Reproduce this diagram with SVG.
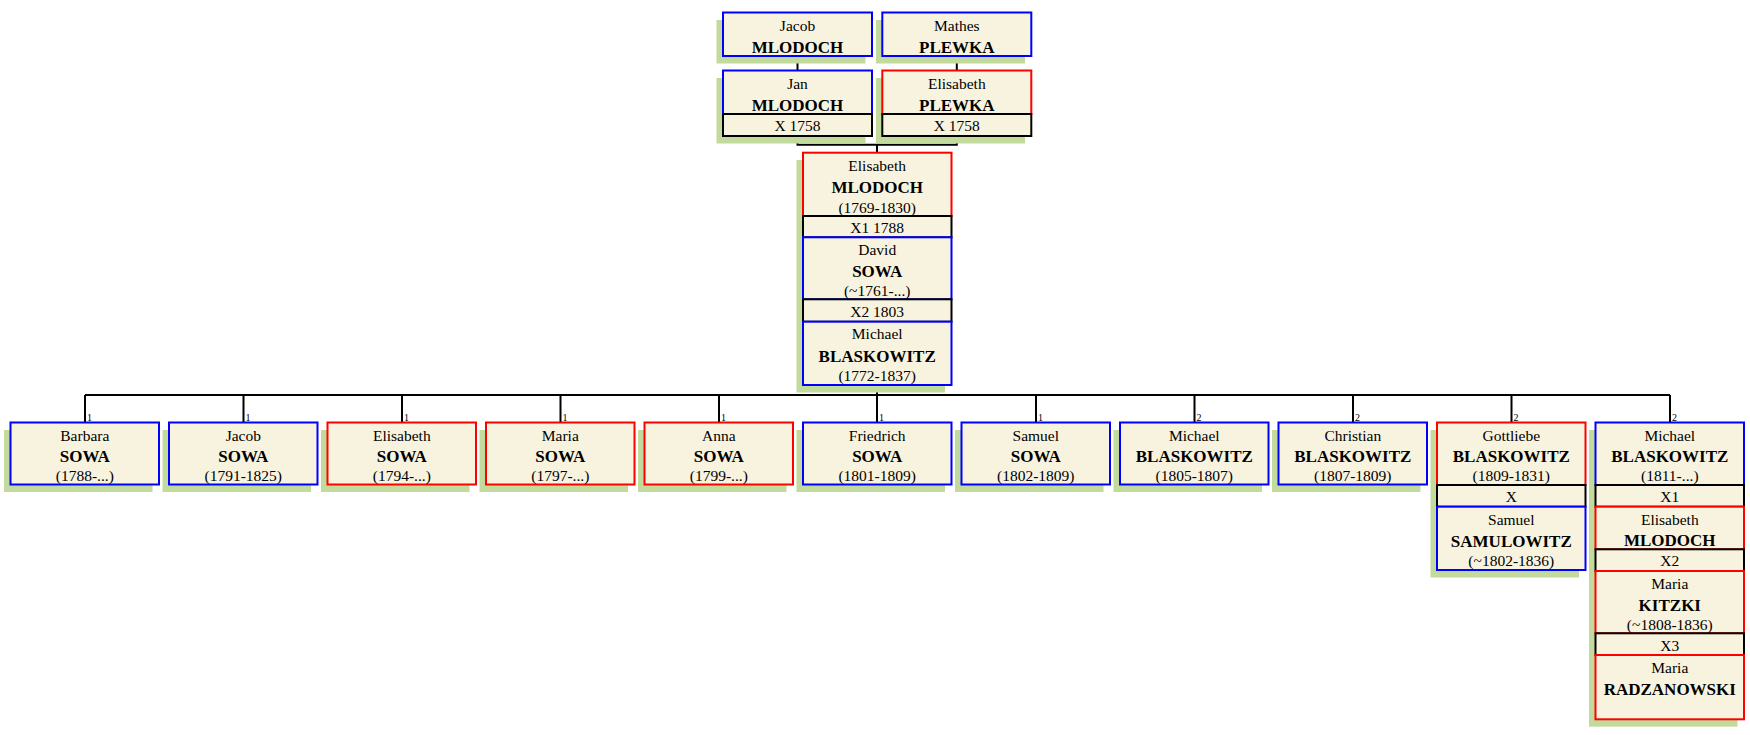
<svg xmlns="http://www.w3.org/2000/svg" width="1750" height="735" viewBox="0 0 1750 735">
<style>
.sh{fill:#C2DA9C}
.b{fill:#F8F3DE;stroke:#0000FF;stroke-width:2}
.r{fill:#F8F3DE;stroke:#FF0000;stroke-width:2}
.m{fill:#F8F3DE;stroke:#000000;stroke-width:2}
text{font-family:"Liberation Serif","Times New Roman",serif;fill:#000;text-anchor:middle}
.fn{font-size:15.5px}
.ln{font-size:17px;font-weight:bold}
.dt{font-size:15.5px}
.lb{font-size:10px;text-anchor:start}
.c{stroke:#000;stroke-width:2;fill:none}
</style>
<rect width="1750" height="735" fill="#FFFFFF"/>
<g id="connectors">
<path class="c" d="M797.5,56V70.5M956.8,56V70.5M797.5,136V144.7H956.8V136M877,144.7V152.7"/>
<path class="c" d="M877,385V395M85,395H1670M85,395V422.5M243.5,395V422.5M402,395V422.5M560.5,395V422.5M719,395V422.5M877,395V422.5M1036,395V422.5M1194.5,395V422.5M1353,395V422.5M1511.5,395V422.5M1670,395V422.5"/>
<text class="lb" x="87" y="421">1</text>
<text class="lb" x="245.5" y="421">1</text>
<text class="lb" x="404" y="421">1</text>
<text class="lb" x="562.5" y="421">1</text>
<text class="lb" x="721" y="421">1</text>
<text class="lb" x="879" y="421">1</text>
<text class="lb" x="1038" y="421">1</text>
<text class="lb" x="1196.5" y="421">2</text>
<text class="lb" x="1355" y="421">2</text>
<text class="lb" x="1513.5" y="421">2</text>
<text class="lb" x="1672" y="421">2</text>
</g>
<g id="jacob-mlodoch">
<rect class="sh" x="716.5" y="20" width="149" height="43.5"/>
<rect class="b" x="723" y="12.5" width="149" height="43.5"/>
<text class="fn" x="797.5" y="31">Jacob</text>
<text class="ln" x="797.5" y="53">MLODOCH</text>
</g>
<g id="mathes-plewka">
<rect class="sh" x="876" y="20" width="149" height="43.5"/>
<rect class="b" x="882.3" y="12.5" width="149" height="43.5"/>
<text class="fn" x="956.8" y="31">Mathes</text>
<text class="ln" x="956.8" y="53">PLEWKA</text>
</g>
<g id="jan-mlodoch">
<rect class="sh" x="716.5" y="78" width="149" height="65.5"/>
<rect class="b" x="723" y="70.5" width="149" height="43.5"/>
<rect class="m" x="723" y="114" width="149" height="22"/>
<text class="fn" x="797.5" y="89">Jan</text>
<text class="ln" x="797.5" y="110.5">MLODOCH</text>
<text class="dt" x="797.5" y="131">X 1758</text>
</g>
<g id="elisabeth-plewka">
<rect class="sh" x="876" y="78" width="149" height="65.5"/>
<rect class="r" x="882.3" y="70.5" width="149" height="43.5"/>
<rect class="m" x="882.3" y="114" width="149" height="22"/>
<text class="fn" x="956.8" y="89">Elisabeth</text>
<text class="ln" x="956.8" y="110.5">PLEWKA</text>
<text class="dt" x="956.8" y="131">X 1758</text>
</g>
<g id="elisabeth-mlodoch">
<rect class="sh" x="796.5" y="160" width="148.5" height="232.5"/>
<rect class="r" x="803" y="152.7" width="148.5" height="63.3"/>
<rect class="m" x="803" y="216" width="148.5" height="21.3"/>
<rect class="b" x="803" y="237.3" width="148.5" height="62"/>
<rect class="m" x="803" y="299.3" width="148.5" height="22.4"/>
<rect class="b" x="803" y="321.7" width="148.5" height="63.3"/>
<text class="fn" x="877.2" y="170.7">Elisabeth</text>
<text class="ln" x="877.2" y="192.7">MLODOCH</text>
<text class="dt" x="877.2" y="212.5">(1769-1830)</text>
<text class="dt" x="877.2" y="233">X1 1788</text>
<text class="fn" x="877.2" y="255.3">David</text>
<text class="ln" x="877.2" y="276.7">SOWA</text>
<text class="dt" x="877.2" y="296">(~1761-...)</text>
<text class="dt" x="877.2" y="317.3">X2 1803</text>
<text class="fn" x="877.2" y="339.3">Michael</text>
<text class="ln" x="877.2" y="361.7">BLASKOWITZ</text>
<text class="dt" x="877.2" y="380.7">(1772-1837)</text>
</g>
<g id="barbara-sowa">
<rect class="sh" x="4" y="430" width="148.5" height="62"/>
<rect class="b" x="10.5" y="422.5" width="148.5" height="62"/>
<text class="fn" x="84.8" y="440.5">Barbara</text>
<text class="ln" x="84.8" y="462">SOWA</text>
<text class="dt" x="84.8" y="481">(1788-...)</text>
</g>
<g id="jacob-sowa">
<rect class="sh" x="162.5" y="430" width="148.5" height="62"/>
<rect class="b" x="169" y="422.5" width="148.5" height="62"/>
<text class="fn" x="243.3" y="440.5">Jacob</text>
<text class="ln" x="243.3" y="462">SOWA</text>
<text class="dt" x="243.3" y="481">(1791-1825)</text>
</g>
<g id="elisabeth-sowa">
<rect class="sh" x="321" y="430" width="148.5" height="62"/>
<rect class="r" x="327.5" y="422.5" width="148.5" height="62"/>
<text class="fn" x="401.8" y="440.5">Elisabeth</text>
<text class="ln" x="401.8" y="462">SOWA</text>
<text class="dt" x="401.8" y="481">(1794-...)</text>
</g>
<g id="maria-sowa">
<rect class="sh" x="479.5" y="430" width="148.5" height="62"/>
<rect class="r" x="486" y="422.5" width="148.5" height="62"/>
<text class="fn" x="560.3" y="440.5">Maria</text>
<text class="ln" x="560.3" y="462">SOWA</text>
<text class="dt" x="560.3" y="481">(1797-...)</text>
</g>
<g id="anna-sowa">
<rect class="sh" x="638" y="430" width="148.5" height="62"/>
<rect class="r" x="644.5" y="422.5" width="148.5" height="62"/>
<text class="fn" x="718.8" y="440.5">Anna</text>
<text class="ln" x="718.8" y="462">SOWA</text>
<text class="dt" x="718.8" y="481">(1799-...)</text>
</g>
<g id="friedrich-sowa">
<rect class="sh" x="796.5" y="430" width="148.5" height="62"/>
<rect class="b" x="803" y="422.5" width="148.5" height="62"/>
<text class="fn" x="877.2" y="440.5">Friedrich</text>
<text class="ln" x="877.2" y="462">SOWA</text>
<text class="dt" x="877.2" y="481">(1801-1809)</text>
</g>
<g id="samuel-sowa">
<rect class="sh" x="955" y="430" width="148.5" height="62"/>
<rect class="b" x="961.5" y="422.5" width="148.5" height="62"/>
<text class="fn" x="1035.8" y="440.5">Samuel</text>
<text class="ln" x="1035.8" y="462">SOWA</text>
<text class="dt" x="1035.8" y="481">(1802-1809)</text>
</g>
<g id="michael-blaskowitz-1805">
<rect class="sh" x="1113.5" y="430" width="148.5" height="62"/>
<rect class="b" x="1120" y="422.5" width="148.5" height="62"/>
<text class="fn" x="1194.3" y="440.5">Michael</text>
<text class="ln" x="1194.3" y="462">BLASKOWITZ</text>
<text class="dt" x="1194.3" y="481">(1805-1807)</text>
</g>
<g id="christian-blaskowitz">
<rect class="sh" x="1272" y="430" width="148.5" height="62"/>
<rect class="b" x="1278.5" y="422.5" width="148.5" height="62"/>
<text class="fn" x="1352.8" y="440.5">Christian</text>
<text class="ln" x="1352.8" y="462">BLASKOWITZ</text>
<text class="dt" x="1352.8" y="481">(1807-1809)</text>
</g>
<g id="gottliebe-blaskowitz">
<rect class="sh" x="1430.5" y="430" width="148.5" height="147.5"/>
<rect class="r" x="1437" y="422.5" width="148.5" height="62.5"/>
<rect class="m" x="1437" y="485" width="148.5" height="21.7"/>
<rect class="b" x="1437" y="506.7" width="148.5" height="63.3"/>
<text class="fn" x="1511.3" y="440.5">Gottliebe</text>
<text class="ln" x="1511.3" y="462">BLASKOWITZ</text>
<text class="dt" x="1511.3" y="481">(1809-1831)</text>
<text class="dt" x="1511.3" y="502">X</text>
<text class="fn" x="1511.3" y="525">Samuel</text>
<text class="ln" x="1511.3" y="546.5">SAMULOWITZ</text>
<text class="dt" x="1511.3" y="566">(~1802-1836)</text>
</g>
<g id="michael-blaskowitz-1811">
<rect class="sh" x="1589" y="430" width="148.5" height="296.7"/>
<rect class="b" x="1595.5" y="422.5" width="148.5" height="62.5"/>
<rect class="m" x="1595.5" y="485" width="148.5" height="21.7"/>
<rect class="r" x="1595.5" y="506.7" width="148.5" height="42.6"/>
<rect class="m" x="1595.5" y="549.3" width="148.5" height="21.7"/>
<rect class="r" x="1595.5" y="571" width="148.5" height="62.3"/>
<rect class="m" x="1595.5" y="633.3" width="148.5" height="21.7"/>
<rect class="r" x="1595.5" y="655" width="148.5" height="64.3"/>
<text class="fn" x="1669.8" y="440.5">Michael</text>
<text class="ln" x="1669.8" y="462">BLASKOWITZ</text>
<text class="dt" x="1669.8" y="481">(1811-...)</text>
<text class="dt" x="1669.8" y="502">X1</text>
<text class="fn" x="1669.8" y="525">Elisabeth</text>
<text class="ln" x="1669.8" y="545.7">MLODOCH</text>
<text class="dt" x="1669.8" y="566">X2</text>
<text class="fn" x="1669.8" y="589">Maria</text>
<text class="ln" x="1669.8" y="610.5">KITZKI</text>
<text class="dt" x="1669.8" y="629.5">(~1808-1836)</text>
<text class="dt" x="1669.8" y="650.5">X3</text>
<text class="fn" x="1669.8" y="673">Maria</text>
<text class="ln" x="1669.8" y="694.5">RADZANOWSKI</text>
</g>
</svg>
